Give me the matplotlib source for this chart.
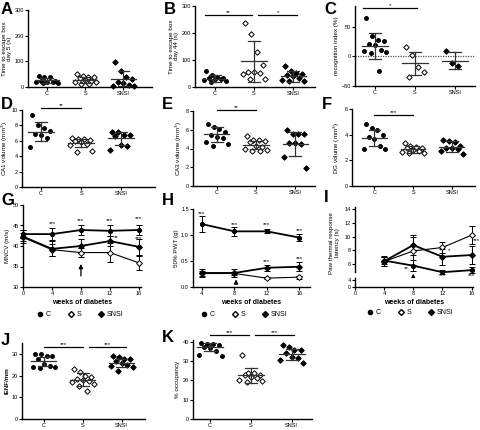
import numpy as np
import matplotlib
matplotlib.use("Agg")
import matplotlib.pyplot as plt
from matplotlib.lines import Line2D

plt.rcParams['font.family'] = ['Liberation Sans', 'DejaVu Sans']
plt.rcParams['font.size'] = 4
plt.rcParams['axes.linewidth'] = 1.0

W, H = 481, 430
groups = ["C", "S", "SNSI"]
weeks = [0, 4, 8, 12, 16]
weeks_h = [4, 8, 12, 16]

# ---- column scatter data ----
a_c = [42, 40, 38, 25, 22, 20, 20, 18, 17, 15]
a_s = [52, 42, 40, 38, 36, 28, 25, 20, 18, 12, 10]
a_n = [97, 62, 40, 30, 19, 15, 6, 4, 3]
a_mean = [26, 27, 33]
a_sd = [11, 13, 31]

b_c = [60, 43, 37, 35, 33, 30, 28, 25, 22, 20]
b_s = [236, 197, 128, 82, 56, 55, 52, 50, 30, 28]
b_n = [78, 58, 52, 47, 43, 40, 33, 25, 22, 21]
b_mean = [31, 95, 40]
b_sd = [12, 75, 20]

c_c = [64, 34, 28, 26, 21, 20, 11, 9, 7, 6, -24]
c_s = [15, 3, -18, -27, -35]
c_n = [9, -12, -16]
c_mean = [17, -12, -7]
c_sd = [22, 20, 14]

d_c = [9.3, 8.0, 7.6, 7.3, 6.9, 6.8, 6.4, 5.2]
d_s = [6.3, 6.2, 6.2, 6.1, 6.0, 5.9, 5.6, 5.4, 4.7, 4.6]
d_n = [7.2, 7.1, 6.8, 6.7, 6.6, 5.5, 5.3, 4.8]
d_mean = [7.2, 5.7, 6.3]
d_sd = [1.2, 0.55, 0.9]

e_c = [6.6, 6.3, 6.1, 5.8, 5.4, 5.2, 5.1, 4.7, 4.5, 4.3]
e_s = [5.3, 4.9, 4.9, 4.8, 4.7, 4.3, 4.2, 4.0, 3.8, 3.7, 3.7]
e_n = [6.0, 5.6, 5.6, 5.5, 4.6, 4.6, 4.5, 3.1, 1.9]
e_mean = [5.5, 4.4, 4.5]
e_sd = [0.8, 0.45, 1.3]

f_c = [4.8, 4.5, 4.35, 4.0, 3.85, 3.7, 3.1, 2.9, 2.85]
f_s = [3.35, 3.1, 3.05, 3.0, 2.95, 2.8, 2.7, 2.65, 2.6, 2.6]
f_n = [3.55, 3.5, 3.4, 3.1, 3.0, 2.95, 2.9, 2.7, 2.5]
f_mean = [3.75, 2.85, 3.05]
f_sd = [0.65, 0.25, 0.42]

j_c = [30, 29.8, 29.2, 28.9, 27.6, 25.3, 24.6, 23.8, 23.8, 23.3]
j_s = [23, 21.7, 20, 19.2, 18.4, 17.9, 17.6, 17.1, 16, 15.3, 13]
j_n = [28.9, 28.4, 27.6, 27.6, 26.8, 25.6, 25.0, 24.6, 23.8, 22.3]
j_mean = [26.5, 18.1, 25.8]
j_sd = [1.9, 3.0, 1.9]

k_c = [39.5, 38.8, 38.5, 38.3, 37.4, 36.5, 35.3, 33.1, 32.6]
k_s = [33.1, 24, 23.7, 22.8, 22.5, 21.9, 21.1, 20.2, 19.4, 18.9]
k_n = [38.3, 37.1, 35.7, 35.7, 34, 32.2, 31.4, 30.5, 28.8]
k_mean = [37.4, 22.5, 33.4]
k_sd = [2.1, 3.8, 3.0]

# ---- time course data ----
g_c = [42.9, 42.9, 43.9, 43.7, 43.9]
g_c_err = [1.0, 1.5, 1.3, 1.3, 1.3]
g_s = [42.1, 39.1, 38.4, 38.4, 35.9]
g_s_err = [1.0, 1.5, 1.0, 2.3, 1.7]
g_n = [42.3, 39.3, 40.0, 41.2, 39.8]
g_n_err = [1.5, 1.8, 1.6, 1.2, 2.0]

h_c = [1.21, 1.07, 1.07, 0.95]
h_c_err = [0.15, 0.08, 0.04, 0.06]
h_s = [0.26, 0.26, 0.17, 0.19]
h_s_err = [0.04, 0.03, 0.02, 0.03]
h_n = [0.27, 0.27, 0.37, 0.39]
h_n_err = [0.07, 0.07, 0.06, 0.09]

i_c = [6.5, 5.75, 4.8, 5.1]
i_c_err = [0.5, 0.8, 0.3, 0.4]
i_s = [6.35, 7.9, 8.4, 10.2]
i_s_err = [0.6, 2.0, 0.8, 1.3]
i_n = [6.4, 8.75, 7.05, 7.3]
i_n_err = [0.7, 1.5, 1.2, 1.3]

fig = plt.figure(figsize=(W / 100, H / 100), dpi=100)


def px_axes(l, r, top, bot):
    return fig.add_axes([l / W, 1 - bot / H, (r - l) / W, (bot - top) / H])


def style(ax):
    for s in ["top", "right"]:
        ax.spines[s].set_visible(False)
    ax.tick_params(length=2, width=0.8, pad=1, labelsize=4)


def letter(x, y, t):
    fig.text(x / W, 1 - y / H, t, fontsize=12, fontweight="bold", va="top", ha="left")


def dotplot(ax, data, means, sds, ylim, yticks, ylabel, xlim, sig=()):
    style(ax)
    marks = [dict(marker="o", mfc="black", mec="black"),
             dict(marker="D", mfc="white", mec="black"),
             dict(marker="D", mfc="black", mec="black")]
    pattern = [-0.22, -0.07, 0.07, 0.22, -0.15, 0.0, 0.15, -0.28, 0.28, -0.1, 0.1]
    for i, vals in enumerate(data):
        vals = sorted(vals, reverse=True)
        xs = [i + pattern[k % len(pattern)] for k in range(len(vals))]
        ax.plot(xs, vals, ls="none", ms=2.8, mew=0.7, clip_on=False, **marks[i])
        m, s = means[i], sds[i]
        ax.plot([i - 0.32, i + 0.32], [m, m], color="#333333", lw=0.9)
        ax.plot([i, i], [m - s, m + s], color="#333333", lw=0.9)
        ax.plot([i - 0.15, i + 0.15], [m + s, m + s], color="#333333", lw=0.9)
        ax.plot([i - 0.15, i + 0.15], [m - s, m - s], color="#333333", lw=0.9)
    for x0, x1, y, t in sig:
        ax.plot([x0, x1], [y, y], color="black", lw=0.9, clip_on=False)
        ax.text((x0 + x1) / 2, y, t, ha="center", va="bottom", fontsize=4.5)
    ax.set_xlim(*xlim)
    ax.set_ylim(*ylim)
    ax.set_yticks(yticks)
    ax.set_xticks(range(3))
    ax.set_xticklabels(groups)
    ax.set_ylabel(ylabel, fontsize=4.5, labelpad=1.5)


# A
ax = px_axes(28, 152, 10, 87)
dotplot(ax, [a_c, a_s, a_n], a_mean, a_sd, (0, 300), [0, 100, 200, 300],
        "Time to escape box\nday 5 (s)", (-0.5, 2.75))
letter(1, 2, "A")
# B
ax = px_axes(195, 315, 6, 87)
dotplot(ax, [b_c, b_s, b_n], b_mean, b_sd, (0, 300), [0, 100, 200, 300],
        "Time to escape box\nday 44 (s)", (-0.5, 2.55),
        sig=[(-0.25, 0.95, 266, "**"), (1.1, 2.1, 266, "*")])
letter(164, 2, "B")
# C
ax = px_axes(355, 475, 6, 86)
dotplot(ax, [c_c, c_s, c_n], c_mean, c_sd, (-50, 85), [-50, 0, 50],
        "recognition index (%)", (-0.5, 2.5), sig=[(-0.3, 1.05, 82, "*")])
ax.axhline(0, color="#555555", lw=0.9, ls=(0, (1, 1)), zorder=0)
letter(324, 2, "C")
# D
ax = px_axes(22, 155, 110, 187)
dotplot(ax, [d_c, d_s, d_n], d_mean, d_sd, (0, 10), [0, 2, 4, 6, 8, 10],
        "CA1 volume (mm$^3$)", (-0.48, 2.85), sig=[(0, 1, 10.2, "**")])
letter(1, 97, "D")
# E
ax = px_axes(193, 315, 111, 186)
dotplot(ax, [e_c, e_s, e_n], e_mean, e_sd, (0, 8), [0, 2, 4, 6, 8],
        "CA3 volume (mm$^3$)", (-0.6, 2.5), sig=[(0, 1, 8.1, "**")])
letter(162, 97, "E")
# F
ax = px_axes(352, 475, 109, 186)
dotplot(ax, [f_c, f_s, f_n], f_mean, f_sd, (0, 6), [0, 2, 4, 6],
        "DG volume (mm$^3$)", (-0.58, 2.6), sig=[(0, 1, 5.5, "***")])
letter(322, 97, "F")
# J
ax = px_axes(22, 145, 343, 419)
dotplot(ax, [j_c, j_s, j_n], j_mean, j_sd, (0, 35), [0, 10, 20, 30],
        "IENF/mm", (-0.56, 2.6),
        sig=[(0, 1, 33, "***"), (1.15, 2.1, 33, "***")])
ax.yaxis.label.set_fontweight("bold")
letter(1, 333, "J")
# K
ax = px_axes(193, 312, 340, 419)
dotplot(ax, [k_c, k_s, k_n], k_mean, k_sd, (0, 40.8), [0, 10, 20, 30, 40],
        "% occupancy", (-0.42, 2.5),
        sig=[(0, 0.95, 43.4, "***"), (1.1, 2.05, 43.4, "***")])
letter(162, 330, "K")


def series(ax, x, ys, errs):
    fmts = [dict(marker="o", mfc="black", mec="black", lw=1.3),
            dict(marker="D", mfc="white", mec="black", lw=0.8),
            dict(marker="D", mfc="black", mec="black", lw=1.3)]
    for y, e, f in zip(ys, errs, fmts):
        ax.errorbar(x, y, yerr=e, color="black", ms=3, mew=0.7, capsize=2,
                    elinewidth=0.7, capthick=0.7, clip_on=False, **f)


def stars(ax, items):
    for x, y, t in items:
        ax.text(x, y, t, ha="center", va="bottom", fontsize=4.5, clip_on=False)


def legend_below(cx, y):
    hs = [Line2D([], [], ls="none", marker="o", mfc="black", mec="black", ms=3),
          Line2D([], [], ls="none", marker="D", mfc="white", mec="black", ms=3),
          Line2D([], [], ls="none", marker="D", mfc="black", mec="black", ms=3)]
    fig.legend(hs, groups, loc="center", bbox_to_anchor=(cx / W, 1 - y / H), ncol=3,
               frameon=False, fontsize=5, handletextpad=0.3, columnspacing=2.4,
               handlelength=1)


# G
ax = px_axes(23, 141, 205, 287)
style(ax)
series(ax, weeks, [g_c, g_s, g_n], [g_c_err, g_s_err, g_n_err])
ax.set_xlim(0, 16.3)
ax.set_ylim(30, 50)
ax.set_xticks(weeks)
ax.set_yticks([30, 35, 40, 45, 50])
ax.set_ylabel("MNCV (m/s)", fontsize=4.5, labelpad=1.5)
ax.set_xlabel("weeks of diabetes", fontsize=5, fontweight="bold", labelpad=2)
stars(ax, [(4, 44.8, "***"), (8, 45.7, "***"), (12, 45.7, "***"), (16, 46.0, "***"),
           (12.9, 41.5, "**"), (16, 41.2, "***")])
ax.annotate("", xy=(8, 36.3), xytext=(8, 32),
            arrowprops=dict(arrowstyle="-|>", color="black", lw=0.9, mutation_scale=6))
legend_below(80, 315)
letter(1, 193, "G")

# H
ax = px_axes(193, 310, 209, 287)
style(ax)
series(ax, weeks_h, [h_c, h_s, h_n], [h_c_err, h_s_err, h_n_err])
ax.set_xlim(2.9, 17.3)
ax.set_ylim(0, 1.5)
ax.set_xticks(weeks_h)
ax.set_yticks([0, 0.5, 1.0, 1.5])
ax.set_yticklabels(["0.0", "0.5", "1.0", "1.5"])
ax.set_ylabel("50% PWT (g)", fontsize=4.5, labelpad=1.5)
ax.set_xlabel("weeks of diabetes", fontsize=5, fontweight="bold", labelpad=2)
stars(ax, [(4, 1.36, "***"), (8, 1.15, "***"), (12, 1.15, "***"), (16, 1.03, "***"),
           (12, 0.44, "***"), (16, 0.5, "***")])
ax.annotate("", xy=(8.2, 0.2), xytext=(8.2, 0),
            arrowprops=dict(arrowstyle="-|>", color="black", lw=0.9, mutation_scale=6))
legend_below(244, 315)
letter(162, 193, "H")

# I (broken y axis)
ax = px_axes(355, 473, 207, 272)
ax_lo = px_axes(355, 473, 278, 287)
style(ax)
style(ax_lo)
ax.spines["bottom"].set_visible(False)
ax.tick_params(axis="x", bottom=False, labelbottom=False)
series(ax, weeks_h, [i_c, i_s, i_n], [i_c_err, i_s_err, i_n_err])
ax.set_xlim(0, 16.2)
ax.set_ylim(4.83, 14.3)
ax.set_yticks([6, 8, 10, 12, 14])
ax_lo.set_xlim(0, 16.2)
ax_lo.set_ylim(0, 5.1)
ax_lo.set_yticks([0, 4])
ax_lo.set_xticks(weeks)
ax_lo.set_xlabel("weeks of diabetes", fontsize=5, fontweight="bold", labelpad=2)
ax.set_ylabel("Paw thermal response\nlatency (s)", fontsize=4.5)
ax.yaxis.set_label_coords(-0.13, 0.45)
stars(ax, [(7.0, 5.0, "**"), (12, 3.9, "***"), (16, 3.9, "***"), (12.9, 7.6, "*"),
           (16.7, 9.1, "***")])
ax.annotate("", xy=(8, 5.0), xytext=(8, 2.64), annotation_clip=False,
            arrowprops=dict(arrowstyle="-|>", color="black", lw=0.9, mutation_scale=6))
legend_below(410, 313)
letter(324, 190, "I")

fig.savefig("out.png", dpi=100)
